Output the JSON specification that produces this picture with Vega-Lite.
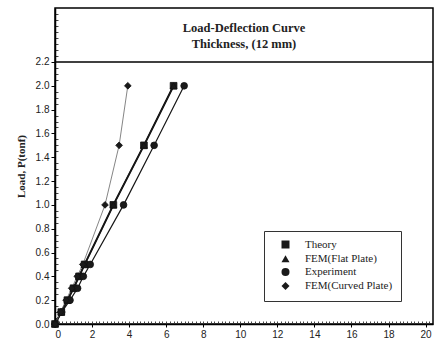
{
  "$schema": "https://vega.github.io/schema/vega-lite/v6.json",
  "width": 378,
  "height": 316,
  "autosize": "none",
  "padding": {"left": 55, "top": 8, "right": 1, "bottom": 21},
  "background": "white",
  "config": {
    "view": {"stroke": "black", "strokeWidth": 1.5},
    "legend": {"labelFont": "Liberation Serif", "labelFontSize": 11, "labelColor": "#222"}
  },
  "title": {
    "text": ["Load-Deflection Curve", "Thickness, (12 mm)"],
    "font": "Liberation Serif",
    "fontSize": 12.5,
    "fontWeight": "bold",
    "color": "#222",
    "frame": "group",
    "anchor": "middle",
    "orient": "top",
    "baseline": "top",
    "offset": -42,
    "lineHeight": 16
  },
  "datasets": {
    "curves": [
      {"series": "Theory", "x": 0, "y": 0},
      {"series": "Theory", "x": 0.34, "y": 0.1},
      {"series": "Theory", "x": 0.67, "y": 0.2},
      {"series": "Theory", "x": 1.0, "y": 0.3},
      {"series": "Theory", "x": 1.3, "y": 0.4},
      {"series": "Theory", "x": 1.6, "y": 0.5},
      {"series": "Theory", "x": 3.15, "y": 1.0},
      {"series": "Theory", "x": 4.8, "y": 1.5},
      {"series": "Theory", "x": 6.4, "y": 2.0},
      {"series": "FEM(Flat Plate)", "x": 0, "y": 0},
      {"series": "FEM(Flat Plate)", "x": 0.34, "y": 0.1},
      {"series": "FEM(Flat Plate)", "x": 0.67, "y": 0.2},
      {"series": "FEM(Flat Plate)", "x": 1.0, "y": 0.3},
      {"series": "FEM(Flat Plate)", "x": 1.3, "y": 0.4},
      {"series": "FEM(Flat Plate)", "x": 1.6, "y": 0.5},
      {"series": "FEM(Flat Plate)", "x": 3.15, "y": 1.0},
      {"series": "FEM(Flat Plate)", "x": 4.8, "y": 1.5},
      {"series": "FEM(Flat Plate)", "x": 6.4, "y": 2.0},
      {"series": "Experiment", "x": 0, "y": 0},
      {"series": "Experiment", "x": 0.36, "y": 0.1},
      {"series": "Experiment", "x": 0.81, "y": 0.2},
      {"series": "Experiment", "x": 1.22, "y": 0.3},
      {"series": "Experiment", "x": 1.53, "y": 0.4},
      {"series": "Experiment", "x": 1.9, "y": 0.5},
      {"series": "Experiment", "x": 3.7, "y": 1.0},
      {"series": "Experiment", "x": 5.35, "y": 1.5},
      {"series": "Experiment", "x": 6.97, "y": 2.0},
      {"series": "FEM(Curved Plate)", "x": 0, "y": 0},
      {"series": "FEM(Curved Plate)", "x": 0.3, "y": 0.1},
      {"series": "FEM(Curved Plate)", "x": 0.6, "y": 0.2},
      {"series": "FEM(Curved Plate)", "x": 0.9, "y": 0.3},
      {"series": "FEM(Curved Plate)", "x": 1.2, "y": 0.4},
      {"series": "FEM(Curved Plate)", "x": 1.5, "y": 0.5},
      {"series": "FEM(Curved Plate)", "x": 2.7, "y": 1.0},
      {"series": "FEM(Curved Plate)", "x": 3.46, "y": 1.5},
      {"series": "FEM(Curved Plate)", "x": 3.93, "y": 2.0}
    ],
    "minor": [{"v": 0}],
    "top": [{"y": 2.2}]
  },
  "resolve": {"axis": {"x": "independent", "y": "independent"}},
  "layer": [
    {
      "data": {"name": "minor"},
      "mark": {"type": "point", "opacity": 0},
      "encoding": {
        "x": {
          "field": "v", "type": "quantitative",
          "scale": {"domain": [0, 20.4], "nice": false, "zero": false},
          "axis": {
            "orient": "bottom", "title": null, "labels": false, "domain": false, "grid": false,
            "values": [0.2,0.4,0.6,0.8,1,1.2,1.4,1.6,1.8,2,2.2,2.4,2.6,2.8,3,3.2,3.4,3.6,3.8,4,4.2,4.4,4.6,4.8,5,5.2,5.4,5.6,5.8,6,6.2,6.4,6.6,6.8,7,7.2,7.4,7.6,7.8,8,8.2,8.4,8.6,8.8,9,9.2,9.4,9.6,9.8,10,10.2,10.4,10.6,10.8,11,11.2,11.4,11.6,11.8,12,12.2,12.4,12.6,12.8,13,13.2,13.4,13.6,13.8,14,14.2,14.4,14.6,14.8,15,15.2,15.4,15.6,15.8,16,16.2,16.4,16.6,16.8,17,17.2,17.4,17.6,17.8,18,18.2,18.4,18.6,18.8,19,19.2,19.4,19.6,19.8,20,20.2],
            "tickSize": -3, "tickColor": "#444", "tickWidth": 1
          }
        },
        "y": {
          "datum": 0, "type": "quantitative",
          "scale": {"domain": [0, 2.653], "nice": false, "zero": false},
          "axis": {
            "orient": "left", "title": null, "labels": false, "domain": false, "grid": false,
            "values": [0.05,0.1,0.15,0.25,0.3,0.35,0.45,0.5,0.55,0.65,0.7,0.75,0.85,0.9,0.95,1.05,1.1,1.15,1.25,1.3,1.35,1.45,1.5,1.55,1.65,1.7,1.75,1.85,1.9,1.95,2.05,2.1,2.15,2.25,2.3,2.35,2.4,2.45,2.5,2.55,2.6],
            "tickSize": -3, "tickColor": "#444", "tickWidth": 1
          }
        }
      }
    },
    {
      "data": {"name": "top"},
      "mark": {"type": "rule", "color": "black", "strokeWidth": 1.5},
      "encoding": {
        "y": {"field": "y", "type": "quantitative", "axis": null}
      }
    },
    {
      "data": {"name": "curves"},
      "mark": {"type": "line", "strokeJoin": "round"},
      "encoding": {
        "x": {
          "field": "x", "type": "quantitative",
          "axis": {
            "orient": "bottom", "title": null, "values": [0,2,4,6,8,10,12,14,16,18,20],
            "labelFont": "Liberation Sans", "labelFontSize": 10, "labelColor": "#222",
            "domainColor": "black", "domainWidth": 1.5, "tickColor": "black", "tickSize": 3,
            "grid": false, "labelPadding": 2
          }
        },
        "y": {
          "field": "y", "type": "quantitative",
          "axis": {
            "orient": "left", "title": "Load, P(tonf)", "values": [0,0.2,0.4,0.6,0.8,1,1.2,1.4,1.6,1.8,2,2.2],
            "format": ".1f",
            "labelFont": "Liberation Sans", "labelFontSize": 10, "labelColor": "#222",
            "titleFont": "Liberation Serif", "titleFontSize": 11, "titleFontWeight": "bold", "titleColor": "#222",
            "titlePadding": 9,
            "domainColor": "black", "domainWidth": 1.5, "tickColor": "black", "tickSize": 4,
            "grid": false, "labelPadding": 2
          }
        },
        "detail": {"field": "series"},
        "color": {
          "condition": {"test": "datum.series === 'FEM(Curved Plate)'", "value": "#666"},
          "value": "#161616"
        },
        "strokeWidth": {
          "condition": [
            {"test": "datum.series === 'Theory'", "value": 2},
            {"test": "datum.series === 'FEM(Curved Plate)'", "value": 0.8}
          ],
          "value": 1.2
        }
      }
    },
    {
      "data": {"name": "curves"},
      "mark": {"type": "point", "filled": true, "size": 45, "opacity": 1, "color": "#1a1a1a", "stroke": "#111", "strokeWidth": 0.8},
      "encoding": {
        "x": {"field": "x", "type": "quantitative", "axis": null},
        "y": {"field": "y", "type": "quantitative", "axis": null},
        "shape": {
          "field": "series", "type": "nominal",
          "scale": {"domain": ["Theory", "FEM(Flat Plate)", "Experiment", "FEM(Curved Plate)"], "range": ["square", "triangle-up", "circle", "diamond"]},
          "legend": {
            "title": null,
            "orient": "none",
            "legendX": 209,
            "legendY": 223,
            "strokeColor": "#333",
            "fillColor": "white",
            "padding": 8,
            "labelFont": "Liberation Serif",
            "labelFontSize": 11,
            "labelColor": "#222",
            "symbolSize": 64,
            "symbolOffset": 8,
            "labelOffset": 14,
            "rowPadding": 1.2,
            "symbolFillColor": "#111",
            "symbolStrokeColor": "#111",
            "symbolStrokeWidth": 1,
            "encode": {
              "symbols": {
                "shape": {"value": {"expr": "datum.value === 'Theory' ? 'M-3.1,0H3.1M-0.7,-0.7H0.7V0.7H-0.7Z' : datum.value === 'FEM(Flat Plate)' ? 'M-3.1,0H3.1M0,-0.8L0.75,0.55H-0.75Z' : datum.value === 'Experiment' ? 'M-3.1,0H3.1M0.75,0A0.75,0.75,0,1,1,-0.75,0A0.75,0.75,0,1,1,0.75,0Z' : 'M-3.1,0H3.1M0,-0.85L0.75,0L0,0.85L-0.75,0Z'"}},
                "fill": {"value": "#111"},
                "stroke": {"value": "#111"},
                "strokeWidth": {"value": 1}
              }
            }
          }
        }
      }
    }
  ]
}
